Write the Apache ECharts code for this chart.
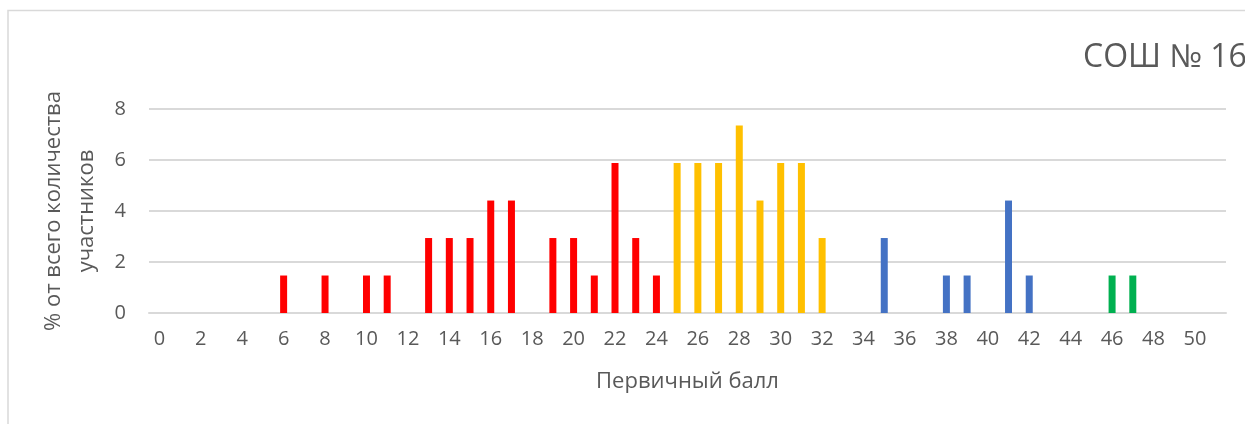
<!DOCTYPE html>
<html>
<head>
<meta charset="utf-8">
<script src="https://cdn.jsdelivr.net/npm/echarts@6/dist/echarts.min.js"></script>
<style>
  html, body { margin: 0; padding: 0; background: #fff; }
  #chart { width: 1245px; height: 424px; }
</style>
</head>
<body>
<div id="chart"></div>
<script>
// первичный балл 0..51
const categories = ['0', '1', '2', '3', '4', '5', '6', '7', '8', '9', '10', '11', '12', '13', '14', '15', '16', '17',
  '18', '19', '20', '21', '22', '23', '24', '25', '26', '27', '28', '29', '30', '31', '32', '33', '34', '35',
  '36', '37', '38', '39', '40', '41', '42', '43', '44', '45', '46', '47', '48', '49', '50', '51']

const redScores = [6, 8, 10, 11, 13, 14, 15, 16, 17, 19, 20, 21, 22, 23, 24]
const redValues = [1.47, 1.47, 1.47, 1.47, 2.94, 2.94, 2.94, 4.41, 4.41, 2.94, 2.94, 1.47, 5.88, 2.94, 1.47]
const yellowScores = [25, 26, 27, 28, 29, 30, 31, 32]
const yellowValues = [5.88, 5.88, 5.88, 7.35, 4.41, 5.88, 5.88, 2.94]
const blueScores = [35, 38, 39, 41, 42]
const blueValues = [2.94, 1.47, 1.47, 4.41, 1.47]
const greenScores = [46, 47]
const greenValues = [1.47, 1.47]

const font = 'Open Sans'
const textColor = '#595959'

function pairs (scores, values) {
  return scores.map((s, i) => [String(s), values[i]])
}

function bars (scores, values, color) {
  return {
    type: 'bar',
    barWidth: 7,
    barGap: '-100%',
    itemStyle: { color: color },
    data: pairs(scores, values)
  }
}

const myChart = echarts.init(document.getElementById('chart'), null, { renderer: 'canvas' })
const option = {
  animation: false,
  backgroundColor: '#fff',
  textStyle: { fontFamily: font },
  title: {
    text: 'СОШ № 16',
    left: 1078,
    top: 37,
    textStyle: { fontFamily: font, fontSize: 32, fontWeight: 'normal', color: textColor }
  },
  graphic: [
    {
      type: 'rect',
      shape: { x: 8, y: 10.5, width: 1260, height: 440 },
      style: { fill: 'none', stroke: '#d9d9d9', lineWidth: 1.5 },
      silent: true
    }
  ],
  grid: { left: 149, right: 19, top: 109, bottom: 111 },
  xAxis: {
    type: 'category',
    data: categories,
    name: 'Первичный балл',
    nameLocation: 'middle',
    nameGap: 58,
    nameTextStyle: { fontFamily: font, fontSize: 22, color: textColor },
    axisLine: { show: true, lineStyle: { color: '#d9d9d9', width: 2 } },
    axisTick: { show: false },
    axisLabel: { interval: 1, margin: 16, fontFamily: font, fontSize: 20, color: textColor }
  },
  yAxis: {
    type: 'value',
    min: 0,
    max: 8,
    interval: 2,
    name: '% от всего количества\nучастников',
    nameLocation: 'middle',
    nameRotate: 90,
    nameGap: 42,
    nameTextStyle: { fontFamily: font, fontSize: 22, color: textColor, lineHeight: 33, align: 'center' },
    axisLine: { show: false },
    axisTick: { show: false },
    axisLabel: { margin: 23, fontFamily: font, fontSize: 20, color: textColor },
    splitLine: { lineStyle: { color: '#d9d9d9', width: 2 } }
  },
  series: [
    bars(redScores, redValues, '#ff0000'),
    bars(yellowScores, yellowValues, '#ffc000'),
    bars(blueScores, blueValues, '#4472c4'),
    bars(greenScores, greenValues, '#00b050')
  ]
}
myChart.setOption(option)
</script>
</body>
</html>
